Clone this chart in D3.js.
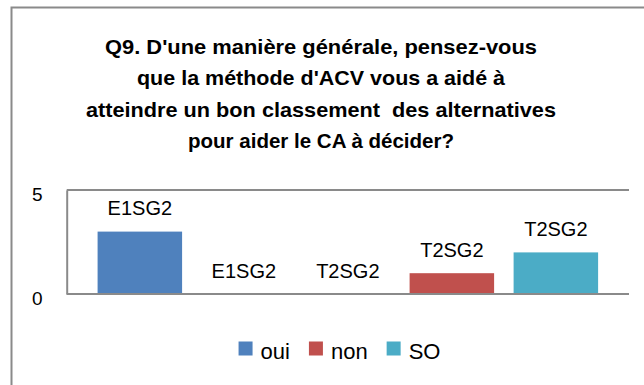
<!DOCTYPE html>
<html>
<head>
<meta charset="utf-8">
<script src="https://cdn.jsdelivr.net/npm/d3@7"></script>
<style>
  html, body { margin: 0; padding: 0; background: #fff; }
  svg { display: block; }
</style>
</head>
<body>
<script>
// Survey answers for Q9, one bar per (group, answer) pair
const titleLines = [
  "Q9. D'une manière générale, pensez-vous",
  "que la méthode d'ACV vous a aidé à",
  "atteindre un bon classement  des alternatives",
  "pour aider le CA à décider?"
];
const barGroups = ["E1SG2", "E1SG2", "T2SG2", "T2SG2", "T2SG2"];
const barSeries = ["oui", "non", "oui", "non", "SO"];
const barValues = [3, 0, 0, 1, 2];
const seriesNames = ["oui", "non", "SO"];
const seriesColors = ["#4F81BD", "#C0504D", "#4BACC6"];
const yTicks = [0, 5];

const W = 644, H = 385;
const frameColor = "#8a8a8a";
const font = "'Liberation Sans', Arial, sans-serif";

const svg = d3.select("body").append("svg")
  .attr("width", W).attr("height", H);

// Chart frame (runs off the right and bottom edges)
svg.append("rect")
  .attr("x", 11.5).attr("y", 7.5)
  .attr("width", W + 20).attr("height", H + 20)
  .attr("fill", "#fff")
  .attr("stroke", frameColor).attr("stroke-width", 2);

// Title
const titleWidths = [432, 368, 470, 266];
svg.append("g").selectAll("text")
  .data(titleLines)
  .join("text")
  .attr("x", 321)
  .attr("y", (d, i) => 53.5 + i * 31.6)
  .attr("text-anchor", "middle")
  .attr("font-family", font)
  .attr("font-weight", "bold")
  .attr("font-size", 20.5)
  .attr("fill", "#000")
  .attr("xml:space", "preserve")
  .attr("textLength", (d, i) => titleWidths[i])
  .attr("lengthAdjust", "spacingAndGlyphs")
  .text(d => d);

// Scales
const plot = { left: 66.7, right: 629, top: 190, bottom: 294 };
const x = d3.scaleBand()
  .domain(d3.range(barValues.length))
  .range([plot.left, plot.right])
  .paddingInner(0.1875)
  .paddingOuter(0.297);
const y = d3.scaleLinear()
  .domain([0, 5])
  .range([plot.bottom, plot.top]);
const color = d3.scaleOrdinal().domain(seriesNames).range(seriesColors);

// Plot area border: top edge
svg.append("line")
  .attr("x1", plot.left).attr("x2", plot.right)
  .attr("y1", y(5)).attr("y2", y(5))
  .attr("stroke", frameColor).attr("stroke-width", 2);

// Y axis
const yAxis = d3.axisLeft(y).tickValues(yTicks).tickSize(0).tickPadding(24).tickFormat(d3.format("d"));
const gy = svg.append("g").attr("transform", `translate(${plot.left},0)`).call(yAxis);
gy.select(".domain").attr("stroke", frameColor).attr("stroke-width", 2);
gy.selectAll("text")
  .attr("font-family", font).attr("font-size", 19).attr("fill", "#000")
  .attr("dy", "0.72em").attr("transform", "translate(0,-3)");

// Bars
svg.append("g").selectAll("rect")
  .data(barValues)
  .join("rect")
  .attr("x", (d, i) => x(i))
  .attr("width", x.bandwidth())
  .attr("y", d => y(d))
  .attr("height", d => y(0) - y(d))
  .attr("fill", (d, i) => color(barSeries[i]));

// X baseline
svg.append("line")
  .attr("x1", plot.left).attr("x2", plot.right)
  .attr("y1", y(0)).attr("y2", y(0))
  .attr("stroke", frameColor).attr("stroke-width", 2);

// Data labels (group names above each bar)
svg.append("g").selectAll("text")
  .data(barValues)
  .join("text")
  .attr("x", (d, i) => x(i) + x.bandwidth() / 2)
  .attr("y", d => y(d) - 16.5)
  .attr("text-anchor", "middle")
  .attr("font-family", font)
  .attr("font-size", 20)
  .attr("fill", "#000")
  .text((d, i) => barGroups[i]);

// Legend
const legend = svg.append("g");
const items = legend.selectAll("g")
  .data(seriesNames)
  .join("g");
items.append("rect")
  .attr("width", 14).attr("height", 14)
  .attr("y", 341.5)
  .attr("fill", d => color(d));
items.append("text")
  .attr("x", 22).attr("y", 358.5)
  .attr("font-family", font).attr("font-size", 22).attr("fill", "#000")
  .text(d => d);
let cx = 0;
const offsets = [];
items.each(function () {
  offsets.push(cx);
  cx += this.getBBox().width + 19;
});
const total = cx - 19;
const start = 339.5 - total / 2;
items.attr("transform", (d, i) => `translate(${start + offsets[i]},0)`);
</script>
</body>
</html>
